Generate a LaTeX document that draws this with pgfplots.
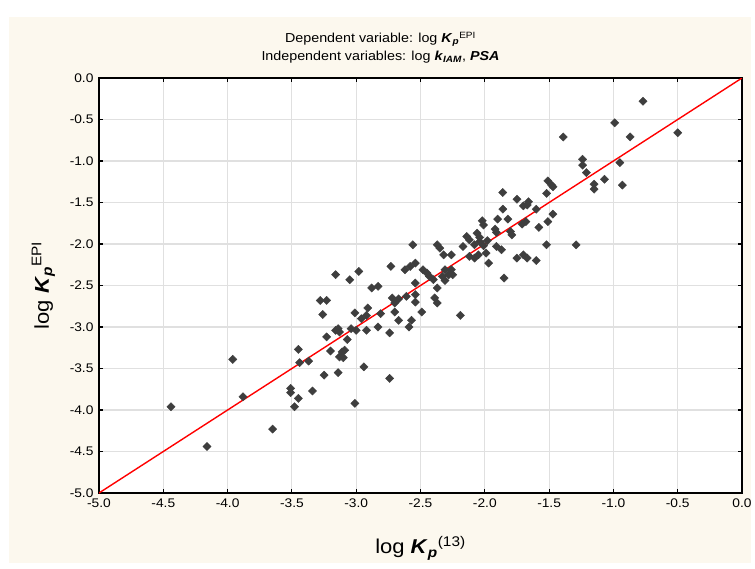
\documentclass[border=0pt]{standalone}
\usepackage{pgfplots}
\pgfplotsset{compat=1.18}
\usepackage{fontspec}
\setmainfont{Liberation Sans}[FakeStretch=1.1]
\definecolor{cream}{RGB}{252,248,238}
\definecolor{gridgray}{RGB}{224,224,224}
\definecolor{ptgray}{RGB}{62,62,62}

\pgfplotstableread{
x y
-4.44 -3.96
-4.16 -4.44
-3.96 -3.39
-3.88 -3.84
-3.65 -4.23
-3.51 -3.74
-3.51 -3.79
-3.48 -3.96
-3.45 -3.86
-3.45 -3.27
-3.44 -3.43
-3.37 -3.41
-3.34 -3.77
-3.28 -2.68
-3.23 -2.68
-3.26 -2.85
-3.25 -3.58
-3.23 -3.12
-3.20 -3.29
-3.16 -3.04
-3.14 -3.02
-3.13 -3.06
-3.16 -2.37
-3.14 -3.55
-3.11 -3.30
-3.09 -3.28
-3.13 -3.36
-3.10 -3.37
-3.07 -3.15
-3.05 -2.43
-3.04 -3.02
-3.01 -2.83
-3.00 -3.04
-3.01 -3.92
-2.98 -2.33
-2.96 -2.90
-2.94 -3.48
-2.92 -2.86
-2.91 -2.77
-2.92 -3.04
-2.88 -2.53
-2.83 -2.51
-2.81 -2.84
-2.83 -3.00
-2.74 -3.07
-2.74 -3.62
-2.73 -2.27
-2.72 -2.65
-2.67 -2.66
-2.70 -2.71
-2.70 -2.82
-2.67 -2.92
-2.61 -2.63
-2.62 -2.31
-2.58 -2.27
-2.54 -2.23
-2.56 -2.01
-2.57 -2.92
-2.59 -3.00
-2.54 -2.61
-2.54 -2.70
-2.54 -2.47
-2.49 -2.82
-2.48 -2.31
-2.45 -2.35
-2.43 -2.39
-2.40 -2.43
-2.39 -2.65
-2.37 -2.71
-2.37 -2.53
-2.37 -2.01
-2.35 -2.05
-2.32 -2.13
-2.26 -2.13
-2.31 -2.31
-2.26 -2.31
-2.28 -2.37
-2.33 -2.39
-2.25 -2.37
-2.31 -2.44
-2.19 -2.86
-2.14 -1.91
-2.12 -1.95
-2.17 -2.03
-2.06 -1.87
-2.04 -1.92
-2.04 -1.97
-2.08 -2.01
-2.01 -2.02
-1.98 -1.96
-2.12 -2.15
-2.08 -2.17
-2.05 -2.13
-1.99 -2.11
-1.97 -2.23
-2.02 -1.72
-2.01 -1.77
-1.92 -1.82
-1.91 -1.86
-1.90 -1.70
-1.82 -1.70
-1.80 -1.85
-1.79 -1.89
-1.91 -2.03
-1.87 -2.07
-1.85 -2.41
-1.86 -1.38
-1.75 -1.46
-1.66 -1.49
-1.67 -1.53
-1.70 -1.54
-1.86 -1.58
-1.60 -1.58
-1.71 -1.76
-1.68 -1.73
-1.47 -1.64
-1.51 -1.73
-1.58 -1.80
-1.75 -2.17
-1.70 -2.13
-1.67 -2.17
-1.60 -2.20
-1.52 -2.01
-1.29 -2.01
-1.51 -1.24
-1.48 -1.29
-1.47 -1.31
-1.52 -1.39
-1.39 -0.71
-1.24 -0.98
-1.24 -1.05
-1.21 -1.14
-1.15 -1.28
-1.15 -1.34
-1.07 -1.22
-0.99 -0.54
-0.95 -1.02
-0.93 -1.29
-0.87 -0.71
-0.77 -0.28
-0.50 -0.66
}\kpdata

\begin{document}
\begin{tikzpicture}[x=1pt,y=1pt]
\useasboundingbox (0,0) rectangle (755,568);
\fill[cream] (9,5) rectangle (751,551);
\begin{axis}[
    at={(99pt,75pt)}, anchor=south west,
    scale only axis,
    width=643pt, height=415pt,
    xmin=-5, xmax=0, ymin=-5, ymax=0,
    xtick={-5,-4.5,...,0}, ytick={-5,-4.5,...,0},
    grid=major,
    major grid style={gridgray, line width=1.1pt},
    axis line style={black, line width=1.4pt},
    tick style={black, line width=1.1pt},
    tick align=inside,
    major tick length=4pt,
    axis background/.style={fill=white},
    /pgf/number format/assume math mode=true,
    /pgf/number format/.cd, fixed, fixed zerofill, precision=1,
    /pgfplots/.cd,
    ticklabel style={font=\fontsize{12.5}{14}\selectfont},
    xticklabel style={yshift=-2pt},
    yticklabel style={xshift=-2pt},
    title={Dependent variable: log \textbf{\textit{K}}\textsubscript{\textbf{\textit{p}}}\textsuperscript{EPI}\\
           Independent variables: log \textbf{\textit{k}}\textsubscript{\textbf{\textit{IAM}}}, \textbf{\textit{PSA}}},
    title style={align=center, font=\fontsize{13}{18}\selectfont, at={(0.5,1)}, anchor=south,
        xshift=-40pt, yshift=5pt},
    xlabel={log \textbf{\textit{K}}\textsubscript{\textbf{\textit{p}}}\textsuperscript{(13)}},
    ylabel={log \textbf{\textit{K}}\textsubscript{\textbf{\textit{p}}}\textsuperscript{EPI}},
    label style={font=\fontsize{20}{24}\selectfont},
    xlabel style={yshift=-22pt},
    ylabel style={yshift=8pt},
]
\addplot[only marks, mark=square*, mark size=2.9pt,
    mark options={fill=ptgray, draw=ptgray, rotate=45}] table {\kpdata};
\addplot[red, line width=1.4pt, no marks] coordinates {(-5,-5) (0,0)};
\end{axis}
\end{tikzpicture}
\end{document}
